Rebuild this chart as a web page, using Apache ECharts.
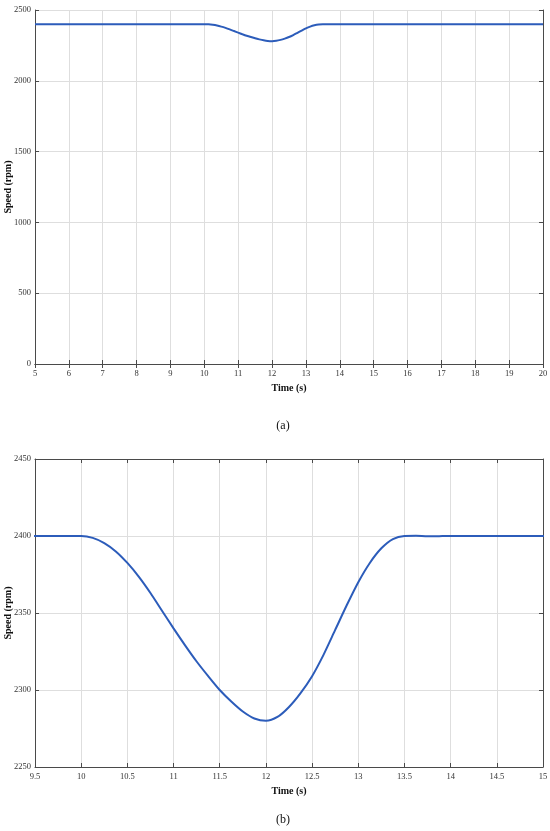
<!DOCTYPE html>
<html>
<head>
<meta charset="utf-8">
<script src="https://cdn.jsdelivr.net/npm/echarts@6/dist/echarts.min.js"></script>
<style>
    html, body { margin: 0; padding: 0; background: #fff; }
    #speedChart { width: 550px; height: 831px; }
</style>
</head>
<body>
<div id="speedChart"></div>
<script>
// time (s) and rotor speed (rpm)
const timeS = [
    5, 10, 10.125, 10.25, 10.375, 10.5, 10.625, 10.75, 10.875,
    11, 11.125, 11.25, 11.375, 11.5, 11.625, 11.75, 11.875,
    12, 12.125, 12.25, 12.375, 12.5, 12.625, 12.75, 12.875,
    13, 13.125, 13.25, 13.375, 13.5, 13.625, 13.75, 13.875, 14, 20,
];
const speedRpm = [
    2400, 2400, 2398.8, 2395.4, 2390, 2382.5, 2373.5, 2363, 2351.5,
    2340, 2329, 2318.5, 2309, 2300, 2292.5, 2286, 2281.5,
    2280, 2282.5, 2289, 2298, 2309, 2323, 2339, 2355,
    2370, 2382.5, 2392, 2398, 2400, 2400.1, 2399.8, 2399.9, 2400, 2400,
];

// axis ranges / ticks for the two panels
const topX = { min: 5, max: 20, step: 1 };
const topY = { min: 0, max: 2500, step: 500 };
const zoomX = { min: 9.5, max: 15, step: 0.5 };
const zoomY = { min: 2250, max: 2450, step: 50 };

const panelLabels = ['(a)', '(b)'];
const xTitle = 'Time (s)';
const yTitle = 'Speed (rpm)';

const points = timeS.map((t, i) => [t, speedRpm[i]]);

const fontFam = '"Liberation Serif", "DejaVu Serif", serif';
const axisColor = '#4a4a4a';
const gridColor = '#dedede';
const lineColor = '#2c5cba';

function plainNum(v) {
    return String(v);
}

function mainX(gridIndex, r) {
    return {
        type: 'value',
        gridIndex: gridIndex,
        min: r.min,
        max: r.max,
        interval: r.step,
        name: xTitle,
        nameLocation: 'middle',
        nameGap: 19,
        nameMoveOverlap: false,
        nameTextStyle: { fontFamily: fontFam, fontSize: 10, fontWeight: 'bold', color: '#111' },
        axisLine: { show: true, lineStyle: { color: axisColor, width: 1 } },
        axisTick: { show: true, inside: true, length: 4, lineStyle: { color: axisColor } },
        axisLabel: { fontFamily: fontFam, fontSize: 8.5, color: '#333', margin: 5, formatter: plainNum },
        splitLine: { show: true, lineStyle: { color: gridColor, width: 1 } },
    };
}

function mainY(gridIndex, r) {
    return {
        type: 'value',
        gridIndex: gridIndex,
        min: r.min,
        max: r.max,
        interval: r.step,
        name: yTitle,
        nameLocation: 'middle',
        nameGap: 22,
        nameMoveOverlap: false,
        nameTextStyle: { fontFamily: fontFam, fontSize: 10, fontWeight: 'bold', color: '#111' },
        axisLine: { show: true, lineStyle: { color: axisColor, width: 1 } },
        axisTick: { show: true, inside: true, length: 4, lineStyle: { color: axisColor } },
        axisLabel: { fontFamily: fontFam, fontSize: 8.5, color: '#333', margin: 4, formatter: plainNum },
        splitLine: { show: true, lineStyle: { color: gridColor, width: 1 } },
    };
}

// box edges (top / right) with inward ticks, no labels
function edgeAxis(kind, gridIndex, r) {
    return {
        type: 'value',
        gridIndex: gridIndex,
        position: kind === 'x' ? 'top' : 'right',
        min: r.min,
        max: r.max,
        interval: r.step,
        axisLine: { show: true, lineStyle: { color: axisColor, width: 1 } },
        axisTick: { show: true, inside: true, length: 4, lineStyle: { color: axisColor } },
        axisLabel: { show: false },
        splitLine: { show: false },
    };
}

const chart = echarts.init(document.getElementById('speedChart'), null, { renderer: 'canvas' });

const option = {
    backgroundColor: '#fff',
    animation: false,
    title: [
        {
            text: panelLabels[0],
            left: 278, top: 415, textAlign: 'center',
            textStyle: { fontFamily: fontFam, fontSize: 12, fontWeight: 'normal', color: '#111' },
        },
        {
            text: panelLabels[1],
            left: 278, top: 809, textAlign: 'center',
            textStyle: { fontFamily: fontFam, fontSize: 12, fontWeight: 'normal', color: '#111' },
        },
    ],
    grid: [
        { left: 35, top: 10, width: 508, height: 354, containLabel: false, outerBoundsMode: 'none' },
        { left: 35, top: 459, width: 508, height: 308, containLabel: false, outerBoundsMode: 'none' },
    ],
    xAxis: [
        mainX(0, topX),
        edgeAxis('x', 0, topX),
        mainX(1, zoomX),
        edgeAxis('x', 1, zoomX),
    ],
    yAxis: [
        mainY(0, topY),
        edgeAxis('y', 0, topY),
        mainY(1, zoomY),
        edgeAxis('y', 1, zoomY),
    ],
    series: [
        {
            type: 'line',
            xAxisIndex: 0,
            yAxisIndex: 0,
            data: points,
            showSymbol: false,
            smooth: 0.25,
            lineStyle: { color: lineColor, width: 2 },
        },
        {
            type: 'line',
            xAxisIndex: 2,
            yAxisIndex: 2,
            data: points,
            showSymbol: false,
            smooth: 0.25,
            clip: true,
            lineStyle: { color: lineColor, width: 2 },
        },
    ],
};

chart.setOption(option);
</script>
</body>
</html>
